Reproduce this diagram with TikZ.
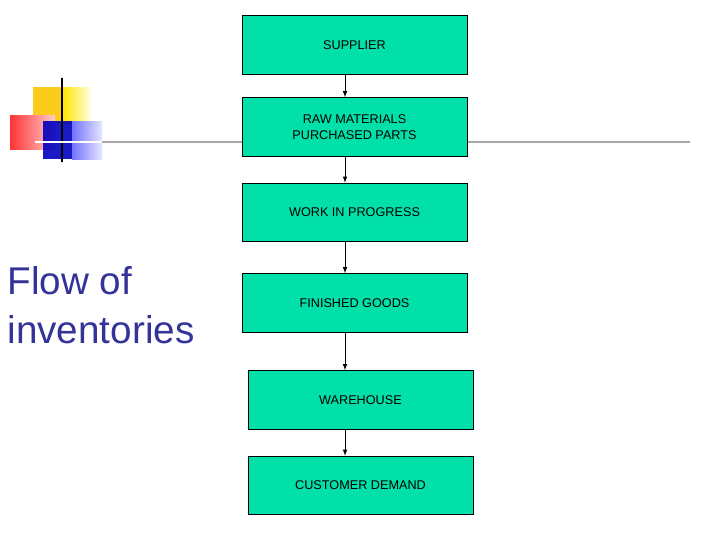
\documentclass[tikz,border=0pt]{standalone}
\usepackage{fontspec}
\setmainfont{Liberation Sans}
\usetikzlibrary{positioning}
\definecolor{boxgreen}{RGB}{0,224,168}
\definecolor{titleblue}{RGB}{51,51,153}
\tikzset{every picture/.style={line width=0.75pt}}
\tikzset{
  flowbox/.style={draw, fill=boxgreen, minimum width=168.75pt, minimum height=44pt, inner sep=0.75pt, font=\fontsize{9.5}{11.5}\selectfont, align=center},
  flowarrow/.style={-latex, line width=0.6pt}
}

\begin{document}
\begin{tikzpicture}[x=0.75pt,y=0.75pt,yscale=-1,xscale=1]
\useasboundingbox (0,0) rectangle (728,546);

%Decoration squares
\fill [yellow!60!orange!90] (33,87) rectangle (90,123);
\shade [left color=yellow!80!orange, right color=yellow!15] (62,87) rectangle (90,123);
\shade [left color=red!80, right color=red!20] (10,115) rectangle (55,149);
\fill [blue!75!black, opacity=0.9] (43,121) rectangle (72,159);
\shade [left color=blue!55, right color=blue!10] (72,121) rectangle (102,159);
\draw [line width=2.2pt] (62,78) -- (62,162);
%Long rule
\draw [gray!70, line width=1.5pt] (35,142) -- (690,142);
\draw [white, line width=1.5pt] (35,142) -- (102,142);

%Boxes
\node [flowbox] (supplier) at (354.5,45) {SUPPLIER};
\node [flowbox] (raw) at (354.5,127) {RAW MATERIALS\\PURCHASED PARTS};
\node [flowbox] (wip) at (354.5,212.5) {WORK IN PROGRESS};
\node [flowbox] (finished) at (354.5,303) {FINISHED GOODS};
\node [flowbox] (warehouse) at (360.5,400) {WAREHOUSE};
\node [flowbox] (customer) at (360.5,485.5) {CUSTOMER DEMAND};

%Arrows
\draw [flowarrow] (supplier.south -| 345,0) -- (raw.north -| 345,0);
\draw [flowarrow] (raw.south -| 345,0) -- (wip.north -| 345,0);
\draw [flowarrow] (wip.south -| 345,0) -- (finished.north -| 345,0);
\draw [flowarrow] (finished.south -| 345,0) -- (warehouse.north -| 345,0);
\draw [flowarrow] (warehouse.south -| 345,0) -- (customer.north -| 345,0);

% Text Node
\node [anchor=north west, inner sep=0pt, text=titleblue, align=left, font=\fontsize{29}{37}\selectfont] (title) at (7,266) {Flow of\\inventories};
\end{tikzpicture}
\end{document}
